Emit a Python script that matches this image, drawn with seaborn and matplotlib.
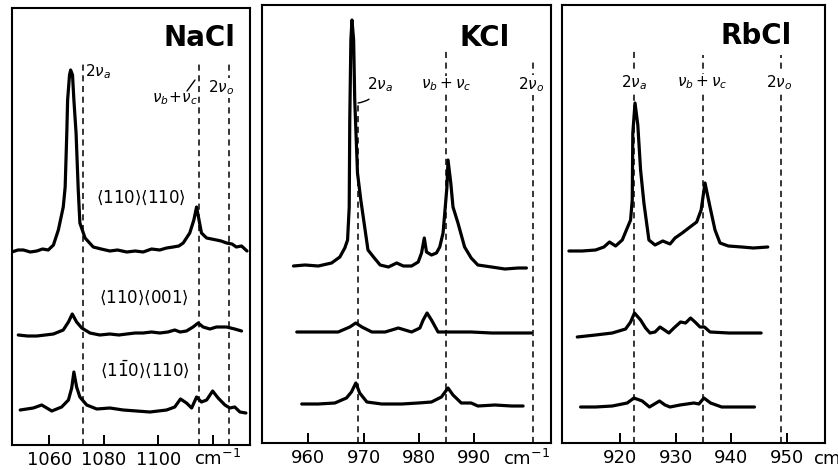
import matplotlib
matplotlib.use("Agg")
import matplotlib.pyplot as plt
from matplotlib.lines import Line2D
import pandas as pd
import seaborn as sns

# ---------------- data (wavenumber in cm^-1, intensity in arbitrary units) -------------
# NaCl
nacl_a_x = [1046.2, 1048.5, 1050.5, 1053.0, 1055.4, 1057.5, 1059.6, 1061.5, 1063.3, 1065.1, 1065.8,
            1066.4, 1066.7, 1067.4, 1067.8, 1068.5, 1069.0, 1069.8, 1070.6, 1071.2, 1073.1, 1076.1,
            1079.0, 1082.2, 1085.0, 1088.4, 1091.5, 1094.4, 1097.5, 1100.5, 1103.0, 1105.4, 1107.5,
            1109.1, 1111.5, 1113.0, 1114.0, 1114.9, 1115.8, 1117.7, 1119.5, 1121.3, 1123.0, 1125.0,
            1127.0, 1128.6, 1130.5, 1132.5]
nacl_a_y = [193, 195, 195, 193, 194, 196, 195, 200, 215, 238, 258, 312, 345, 370, 375, 370, 345, 312,
            255, 222, 207, 198, 196, 194, 195, 193, 194, 193, 196, 195, 197, 198, 199, 202, 212, 225,
            238, 225, 212, 207, 206, 205, 204, 202, 201, 198, 199, 194]
nacl_b_x = [1048.6, 1052.0, 1055.4, 1058.5, 1061.5, 1065.1, 1067.0, 1068.4, 1070.0, 1071.9, 1074.9,
            1078.5, 1082.2, 1085.5, 1088.4, 1091.5, 1094.4, 1097.5, 1100.5, 1103.5, 1106.0, 1108.0,
            1110.3, 1112.7, 1114.6, 1116.4, 1118.9, 1121.3, 1125.0, 1128.0, 1130.5]
nacl_b_y = [110, 109, 109, 110, 111, 115, 123, 131, 123, 117, 112, 110, 111, 110, 111, 112, 112, 113,
            112, 113, 115, 113, 114, 118, 122, 118, 116, 118, 118, 116, 114]
nacl_c_x = [1049.3, 1054.1, 1057.2, 1060.9, 1064.5, 1067.0, 1068.2, 1069.0, 1070.0, 1071.2, 1073.7,
            1077.4, 1082.2, 1087.1, 1092.0, 1096.9, 1103.0, 1106.0, 1108.1, 1110.3, 1112.2, 1114.0,
            1115.8, 1117.7, 1119.9, 1121.9, 1124.4, 1126.2, 1128.0, 1129.9, 1132.1]
nacl_c_y = [35, 37, 40, 34, 38, 45, 57, 73, 58, 48, 40, 36, 37, 35, 34, 33, 35, 38, 46, 42, 37, 48, 43,
            45, 54, 47, 40, 37, 38, 33, 32]
nacl_modes = [1072.5, 1115.0, 1126.0]
nacl_mode_tops = [382, 382, 385]

# KCl
kcl_a_x = [957.3, 959.4, 961.8, 964.2, 965.7, 966.6, 967.1, 967.4, 967.5, 967.7, 967.9, 968.2, 968.4,
           968.9, 969.5, 970.2, 970.8, 971.8, 973.0, 974.5, 976.0, 977.2, 978.7, 979.9, 980.5, 981.0,
           981.4, 982.3, 983.2, 983.8, 984.4, 984.8, 985.1, 985.3, 985.8, 986.2, 987.1, 988.3, 989.5,
           990.7, 993.2, 995.6, 998.0, 999.5]
kcl_a_y = [177, 178, 177, 180, 186, 195, 203, 236, 323, 403, 423, 403, 343, 270, 243, 216, 193, 186,
           178, 176, 180, 177, 177, 181, 190, 205, 191, 188, 190, 196, 210, 236, 256, 283, 260, 236,
           220, 196, 185, 178, 176, 174, 175, 175]
kcl_b_x = [957.9, 961.8, 965.4, 967.5, 968.6, 969.7, 971.5, 973.9, 976.3, 978.7, 980.2, 980.8, 981.5,
           982.3, 983.5, 985.9, 989.5, 993.2, 996.8, 1000.4]
kcl_b_y = [111, 111, 111, 116, 120, 116, 111, 111, 115, 111, 115, 123, 130, 123, 111, 111, 111, 110,
           110, 110]
kcl_c_x = [958.8, 961.8, 964.8, 966.9, 967.8, 968.6, 969.3, 970.6, 973.3, 976.9, 979.9, 982.3, 984.1,
           985.3, 986.2, 987.7, 989.5, 990.7, 993.8, 996.8, 998.9]
kcl_c_y = [39, 39, 40, 45, 51, 60, 50, 41, 39, 39, 40, 41, 46, 55, 48, 40, 40, 37, 38, 37, 37]
kcl_modes = [969.0, 985.0, 1000.7]
kcl_mode_tops = [340, 393, 381]

# RbCl
rbcl_a_x = [910.8, 913.2, 915.6, 917.1, 918.1, 919.2, 920.4, 921.3, 921.9, 922.2, 922.3, 922.7, 923.2,
            923.7, 924.3, 925.2, 926.3, 927.7, 929.0, 929.9, 931.2, 932.6, 933.8, 934.6, 935.3, 936.2,
            937.1, 938.0, 939.5, 941.9, 944.0, 946.6]
rbcl_a_y = [192, 192, 193, 196, 201, 197, 203, 215, 223, 243, 310, 340, 318, 273, 240, 203, 198, 202,
            199, 205, 210, 216, 221, 233, 260, 236, 213, 200, 197, 196, 195, 196]
rbcl_b_x = [912.3, 915.6, 918.6, 921.0, 921.9, 922.6, 923.7, 924.6, 925.4, 926.3, 927.2, 928.8, 929.7,
            930.9, 931.8, 932.7, 933.5, 934.4, 935.2, 936.2, 939.6, 943.1, 945.4]
rbcl_b_y = [106, 108, 110, 114, 121, 130, 123, 115, 110, 111, 116, 110, 115, 121, 120, 125, 121, 116,
            116, 111, 110, 110, 110]
rbcl_c_x = [912.9, 915.6, 918.6, 921.3, 922.5, 924.0, 925.3, 927.1, 928.1, 929.0, 930.8, 933.3, 934.2,
            935.1, 936.3, 938.3, 941.3, 944.2]
rbcl_c_y = [36, 36, 37, 40, 45, 42, 36, 42, 38, 36, 38, 40, 39, 45, 40, 36, 36, 36]
rbcl_modes = [922.6, 935.0, 948.9]
rbcl_mode_tops = [393, 388, 388]

nacl_ticks = [1060, 1080, 1100, 1120]
nacl_ticklabels = ["1060", "1080", "1100", ""]
kcl_ticks = [960, 970, 980, 990]
kcl_ticklabels = ["960", "970", "980", "990"]
rbcl_ticks = [920, 930, 940, 950]
rbcl_ticklabels = ["920", "930", "940", "950"]

polarizations = [r"$\langle 110\rangle\langle 110\rangle$",
                 r"$\langle 110\rangle\langle 001\rangle$",
                 r"$\langle 1\bar{1}0\rangle\langle 110\rangle$"]
salts = ["NaCl", "KCl", "RbCl"]


def frame(xs, ys):
    rows = []
    for name, (x, y) in zip(["a", "b", "c"], zip(xs, ys)):
        rows.append(pd.DataFrame({"wavenumber": x, "intensity": y, "trace": name}))
    return pd.concat(rows, ignore_index=True)


panels = [
    dict(df=frame([nacl_a_x, nacl_b_x, nacl_c_x], [nacl_a_y, nacl_b_y, nacl_c_y]),
         modes=nacl_modes, tops=nacl_mode_tops, ticks=nacl_ticks, labels=nacl_ticklabels,
         xlim=(1046.3, 1133.6), ylim=(0, 437), pos=(12, 8, 250, 445)),
    dict(df=frame([kcl_a_x, kcl_b_x, kcl_c_x], [kcl_a_y, kcl_b_y, kcl_c_y]),
         modes=kcl_modes, tops=kcl_mode_tops, ticks=kcl_ticks, labels=kcl_ticklabels,
         xlim=(951.6, 1003.9), ylim=(0, 438), pos=(262, 5, 550.7, 443)),
    dict(df=frame([rbcl_a_x, rbcl_b_x, rbcl_c_x], [rbcl_a_y, rbcl_b_y, rbcl_c_y]),
         modes=rbcl_modes, tops=rbcl_mode_tops, ticks=rbcl_ticks, labels=rbcl_ticklabels,
         xlim=(909.5, 956.9), ylim=(0, 438), pos=(561.7, 5, 825, 443)),
]

# ---------------- style ----------------
sns.set_theme(style="ticks")
plt.rcParams["font.family"] = ["DejaVu Sans"]
plt.rcParams["mathtext.fontset"] = "dejavusans"
plt.rcParams["text.color"] = "black"
plt.rcParams["xtick.color"] = "black"
plt.rcParams["xtick.labelcolor"] = "black"

W, H = 838, 470
fig = plt.figure(figsize=(W / 100, H / 100), dpi=100)
fig.patch.set_facecolor("white")


def fx(px):
    return px / W


def fy(py):
    return 1 - py / H


axes = []
for p in panels:
    l, t, r, b = p["pos"]
    ax = fig.add_axes([fx(l), fy(b), (r - l) / W, (b - t) / H])
    ax.vlines(p["modes"], 0, p["tops"], colors="black", linewidth=1.1,
              linestyles=(0, (4, 3)), zorder=1)
    sns.lineplot(data=p["df"], x="wavenumber", y="intensity", units="trace",
                 estimator=None, sort=False, color="black", linewidth=2.3,
                 legend=False, ax=ax, zorder=3,
                 solid_joinstyle="round", solid_capstyle="round")
    ax.set_xlim(*p["xlim"])
    ax.set_ylim(*p["ylim"])
    ax.set_xticks(p["ticks"])
    ax.set_xticklabels(p["labels"])
    ax.set_yticks([])
    ax.set_xlabel("")
    ax.set_ylabel("")
    ax.tick_params(axis="x", direction="in", length=7, width=1.4, labelsize=13,
                   pad=4, colors="black", labelcolor="black", bottom=True, top=False)
    for s in ax.spines.values():
        s.set_visible(True)
        s.set_linewidth(1.5)
        s.set_color("black")
    ax.set_facecolor("white")
    axes.append(ax)

# salt names
title_kw = dict(ha="center", va="center", fontsize=20, fontweight="bold", color="black")
fig.text(fx(199), fy(38), salts[0], **title_kw)
fig.text(fx(485), fy(38), salts[1], **title_kw)
fig.text(fx(756), fy(36), salts[2], **title_kw)

# polarization labels (NaCl)
pol_kw = dict(ha="center", va="center", fontsize=12, color="black")
fig.text(fx(141), fy(198), polarizations[0], **pol_kw)
fig.text(fx(144), fy(298), polarizations[1], **pol_kw)
fig.text(fx(145), fy(369), polarizations[2], **pol_kw)

# mode labels
mk = dict(ha="center", va="center", fontsize=11, color="black")
box = dict(facecolor="white", edgecolor="none", pad=0.5)
fig.text(fx(98), fy(72), r"$2\nu_a$", **mk)
fig.text(fx(175), fy(99), r"$\nu_b\!+\!\nu_c$", **mk)
fig.add_artist(Line2D([fx(187), fx(195)], [fy(91), fy(80)], color="black", lw=1.0))
fig.text(fx(221), fy(88), r"$2\nu_o$", bbox=box, **mk)

axes[1].annotate(r"$2\nu_a$", xy=(kcl_modes[0], kcl_mode_tops[0]),
                 xytext=(fx(380), fy(85)), textcoords="figure fraction",
                 ha="center", va="center", fontsize=11, color="black",
                 arrowprops=dict(arrowstyle="-", color="black", lw=1.0,
                                 shrinkA=2, shrinkB=0,
                                 connectionstyle="arc3,rad=-0.3"))
fig.text(fx(446), fy(85), r"$\nu_b + \nu_c$", bbox=box, **mk)
fig.text(fx(531), fy(85), r"$2\nu_o$", bbox=box, **mk)

fig.text(fx(634), fy(83), r"$2\nu_a$", bbox=box, **mk)
fig.text(fx(702), fy(83), r"$\nu_b + \nu_c$", bbox=box, **mk)
fig.text(fx(779), fy(83), r"$2\nu_o$", bbox=box, **mk)

# unit labels
uk = dict(va="center", fontsize=13, color="black")
fig.text(fx(218), fy(459), r"cm$^{-1}$", ha="center", **uk)
fig.text(fx(527), fy(459), r"cm$^{-1}$", ha="center", **uk)
fig.text(fx(813), fy(459), r"cm$^{-1}$", ha="left", **uk)

fig.savefig("out.png", dpi=100, facecolor="white")
